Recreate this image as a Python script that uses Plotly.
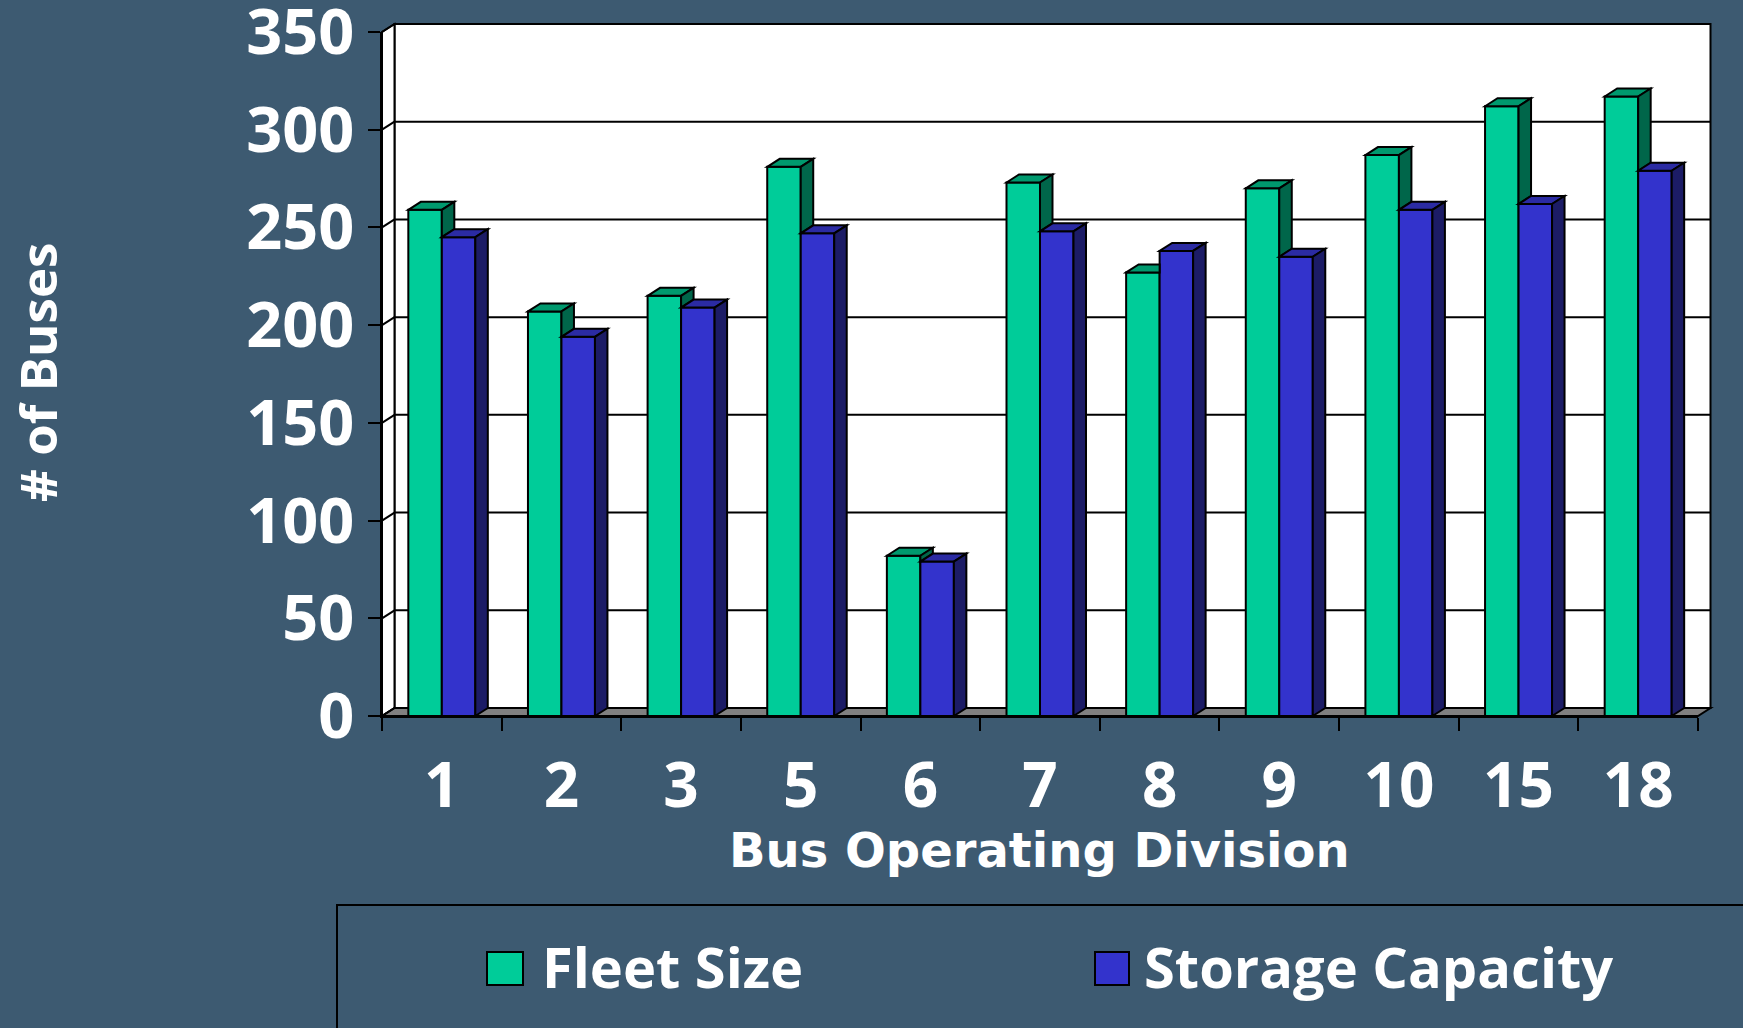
import plotly.graph_objects as go

# ---------------- data ----------------
divisions = ["1", "2", "3", "5", "6", "7", "8", "9", "10", "15", "18"]
fleet_size = [259, 207, 215, 281, 82, 273, 227, 270, 287, 312, 317]
storage_capacity = [245, 194, 209, 247, 79, 248, 238, 235, 259, 262, 279]
series_names = ["Fleet Size", "Storage Capacity"]
y_ticks = [0, 50, 100, 150, 200, 250, 300, 350]
y_title = "# of Buses"
x_title = "Bus Operating Division"

# ---------------- layout constants ----------------
W, H = 1743, 1028
L, R, T, B = 382, 45, 32, 312
PW = W - L - R
PH = H - T - B
YMAX = 350
N = len(divisions)
BW = 0.28
DXP = 12.5 / PW   # depth offset (paper units)
DYP = 8.0 / PH
DYD = DYP * YMAX  # depth offset in data units

BG = "#3d5a71"
GREEN, GREEN_TOP, GREEN_SIDE = "#00cc99", "#00996e", "#00664a"
BLUE, BLUE_TOP, BLUE_SIDE = "#3333cc", "#2b2ba3", "#1c1c66"
FLOOR = "#808080"
FONT = "Open Sans"
FONT_WIDE = "DejaVu Sans"


def xp(xd):
    return (xd + 0.5) / N


def yp(yd):
    return yd / YMAX


def px_x(p):
    return (p - L) / PW


def px_y(p):
    return (H - B - p) / PH


def poly(pts, fill, layer="above", lw=2):
    path = "M " + " L ".join(f"{a:.6f},{b:.6f}" for a, b in pts) + " Z"
    return dict(type="path", xref="paper", yref="paper", path=path,
                fillcolor=fill, line=dict(color="black", width=lw), layer=layer)


def seg(x0, y0, x1, y1, layer="below", lw=2):
    return dict(type="line", xref="paper", yref="paper", x0=x0, y0=y0, x1=x1, y1=y1,
                line=dict(color="black", width=lw), layer=layer)


xs = list(range(N))
fig = go.Figure()
fig.add_trace(go.Bar(x=xs, y=fleet_size, width=BW, offset=-BW, name=series_names[0],
                     marker=dict(color=GREEN, line=dict(color="black", width=2)),
                     showlegend=False))
fig.add_trace(go.Bar(x=xs, y=storage_capacity, width=BW, offset=0, name=series_names[1],
                     marker=dict(color=BLUE, line=dict(color="black", width=2)),
                     showlegend=False))
# invisible trace for the label axis
fig.add_trace(go.Scatter(x=xs, y=[None] * N, xaxis="x2", mode="markers",
                         showlegend=False, hoverinfo="skip"))

shapes = []
# back wall, left wall, floor
shapes.append(poly([(DXP, DYP), (1 + DXP, DYP), (1 + DXP, 1 + DYP), (DXP, 1 + DYP)], "white", "below"))
shapes.append(poly([(0, 0), (DXP, DYP), (DXP, 1 + DYP), (0, 1)], "white", "below"))
shapes.append(poly([(0, 0), (1, 0), (1 + DXP, DYP), (DXP, DYP)], FLOOR, "below"))
for v in y_ticks[1:-1]:
    shapes.append(seg(DXP, yp(v) + DYP, 1 + DXP, yp(v) + DYP))
for v in y_ticks:
    shapes.append(seg(0, yp(v), DXP, yp(v) + DYP))

# 3D faces of the bars
for i in xs:
    g, b = fleet_size[i], storage_capacity[i]
    gl, gr = xp(i - BW), xp(i)
    br = xp(i + BW)
    if b >= g + DYD:
        shapes.append(poly([(gl, yp(g)), (gl + DXP, yp(g) + DYP), (gr, yp(g) + DYP), (gr, yp(g))], GREEN_TOP))
    else:
        shapes.append(poly([(gl, yp(g)), (gl + DXP, yp(g) + DYP), (gr + DXP, yp(g) + DYP), (gr, yp(g))], GREEN_TOP))
    if g > b:
        shapes.append(poly([(gr, yp(b)), (gr + DXP, yp(b) + DYP), (gr + DXP, yp(g) + DYP), (gr, yp(g))], GREEN_SIDE))
    shapes.append(poly([(gr, yp(b)), (gr + DXP, yp(b) + DYP), (br + DXP, yp(b) + DYP), (br, yp(b))], BLUE_TOP))
    shapes.append(poly([(br, 0), (br + DXP, DYP), (br + DXP, yp(b) + DYP), (br, yp(b))], BLUE_SIDE))

# legend (manual, large keys)
shapes.append(dict(type="rect", xref="paper", yref="paper",
                   x0=px_x(337), x1=px_x(1760), y0=px_y(1040), y1=px_y(905),
                   fillcolor=BG, line=dict(color="black", width=2), layer="above"))
shapes.append(dict(type="rect", xref="paper", yref="paper",
                   x0=px_x(487), x1=px_x(523), y0=px_y(985), y1=px_y(952),
                   fillcolor=GREEN, line=dict(color="black", width=2), layer="above"))
shapes.append(dict(type="rect", xref="paper", yref="paper",
                   x0=px_x(1095), x1=px_x(1129), y0=px_y(985), y1=px_y(952),
                   fillcolor=BLUE, line=dict(color="black", width=2), layer="above"))

annotations = [
    dict(text=y_title, xref="paper", yref="paper", x=px_x(37), y=px_y(373),
         textangle=-90, showarrow=False, xanchor="center", yanchor="middle",
         font=dict(family=FONT, size=51, color="white", weight=700)),
    dict(text=x_title, xref="paper", yref="paper", x=px_x(1039), y=px_y(850),
         showarrow=False, xanchor="center", yanchor="middle",
         font=dict(family=FONT_WIDE, size=48, color="white", weight=700)),
    dict(text=series_names[0], xref="paper", yref="paper", x=px_x(540), y=px_y(966),
         showarrow=False, xanchor="left", yanchor="middle",
         font=dict(family=FONT, size=56, color="white", weight=700)),
    dict(text=series_names[1], xref="paper", yref="paper", x=px_x(1142), y=px_y(966),
         showarrow=False, xanchor="left", yanchor="middle",
         font=dict(family=FONT, size=56, color="white", weight=700)),
]

fig.update_layout(
    width=W, height=H,
    margin=dict(l=L, r=R, t=T, b=B, autoexpand=False),
    paper_bgcolor=BG, plot_bgcolor="rgba(0,0,0,0)",
    barmode="overlay", showlegend=False,
    shapes=shapes, annotations=annotations,
    xaxis=dict(range=[-0.5, N - 0.5], tickvals=[k - 0.5 for k in range(N + 1)],
               ticktext=[""] * (N + 1), ticks="outside", ticklen=13, tickwidth=2,
               tickcolor="black", showline=True, linecolor="black", linewidth=2,
               showgrid=False, zeroline=False, automargin=False, fixedrange=True),
    xaxis2=dict(range=[-0.5, N - 0.5], overlaying="x", anchor="y", side="bottom",
                tickvals=xs, ticktext=divisions, ticks="", showline=False,
                showgrid=False, zeroline=False, automargin=False,
                ticklabelstandoff=28, ticklabeloverflow="allow",
                tickfont=dict(family=FONT, size=62, color="white", weight=700)),
    yaxis=dict(range=[0, YMAX], tickvals=y_ticks, ticks="outside", ticklen=12,
               tickwidth=2, tickcolor="black", showline=True, linecolor="black",
               linewidth=2, showgrid=False, zeroline=False, automargin=False,
               ticklabelstandoff=1, ticklabeloverflow="allow",
               tickfont=dict(family=FONT, size=63, color="white", weight=700)),
)

fig.write_html(
    "out.html",
    config={"displayModeBar": False},
    post_script="document.body.style.margin='0';document.body.style.overflow='hidden';",
)
